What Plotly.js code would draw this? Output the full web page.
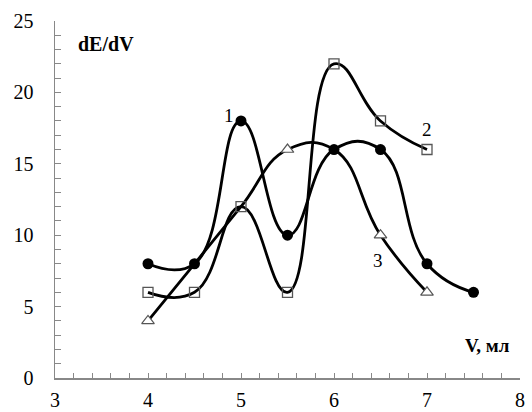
<!DOCTYPE html>
<html><head><meta charset="utf-8">
<script src="https://cdn.plot.ly/plotly-3.0.1.min.js"></script>
<style>body{margin:0;background:#fff}#c{width:532px;height:412px}</style>
</head><body><div id="c"></div>
<script>
const x1 = [4, 4.5, 5, 5.5, 6, 6.5, 7, 7.5];
const y1 = [8, 8, 18, 10, 16, 16, 8, 6];
const x2 = [4, 4.5, 5, 5.5, 6, 6.5, 7];
const y2 = [6, 6, 12, 6, 22, 18, 16];
const x3 = [4, 4.5, 5, 5.5, 6, 6.5, 7];
const y3 = [4, 8, 12, 16, 16, 10, 6];
const curveLabels = ['1', '2', '3'];
const labelX = [4.87, 7.0, 6.47];
const labelY = [18.4, 17.4, 8.2];

const font = 'Liberation Serif, Times New Roman, serif';
const line = {color: '#000', width: 2.8, shape: 'spline', smoothing: 1.3};
const traces = [
  {x: x3, y: y3, mode: 'lines', line: line, hoverinfo: 'none'},
  {x: x3.filter((v,i)=>[0,3,5,6].includes(i)), y: y3.filter((v,i)=>[0,3,5,6].includes(i)), mode: 'markers',
   marker: {symbol: 'triangle-up', size: 11, color: '#fff', line: {color: '#555', width: 1.2}}},
  {x: x2, y: y2, mode: 'lines+markers', line: line,
   marker: {symbol: 'square', size: 10, color: 'rgba(255,255,255,0)', line: {color: '#555', width: 1.3}}},
  {x: x1, y: y1, mode: 'lines+markers', line: line,
   marker: {symbol: 'circle', size: 11, color: '#000'}}
];
const ann = curveLabels.map((t,i)=>({x: labelX[i], y: labelY[i], text: t, showarrow: false, xref:'x', yref:'y',
  font: {family: font, size: 19, color: '#000'}}));
ann.push({xref:'paper', yref:'paper', x: 0.11, y: 0.936, xanchor: 'center', yanchor: 'middle', text: '<b>dE/dV</b>', showarrow:false,
  font:{family: font, size: 20, color:'#000'}});
ann.push({xref:'paper', yref:'paper', x: 0.931, y: 0.092, xanchor: 'center', yanchor: 'middle', text: '<b>V, мл</b>', showarrow:false,
  font:{family: font, size: 19, color:'#000'}});
const layout = {
  width: 532, height: 412,
  margin: {l: 55, r: 12, t: 21, b: 34},
  showlegend: false,
  paper_bgcolor: '#fff', plot_bgcolor: '#fff',
  xaxis: {range: [3, 8], dtick: 1, tick0: 3, showgrid: false, zeroline: false, showline: true,
    linecolor: '#888', linewidth: 1.5, ticks: 'inside', ticklen: 5, tickcolor: '#888',
    minor: {dtick: 0.2, ticks: 'inside', ticklen: 5, tickcolor: '#888'},
    tickfont: {family: font, size: 20, color: '#000'}, ticklabelstandoff: 3},
  yaxis: {range: [0, 25], dtick: 5, showgrid: false, zeroline: false, showline: true,
    linecolor: '#888', linewidth: 1.5, ticks: 'inside', ticklen: 6, tickcolor: '#888',
    minor: {dtick: 1, ticks: 'inside', ticklen: 6, tickcolor: '#888'},
    tickfont: {family: font, size: 20, color: '#000'}, ticklabelstandoff: 16},
  annotations: ann
};
Plotly.newPlot('c', traces, layout, {staticPlot: true});
</script></body></html>
